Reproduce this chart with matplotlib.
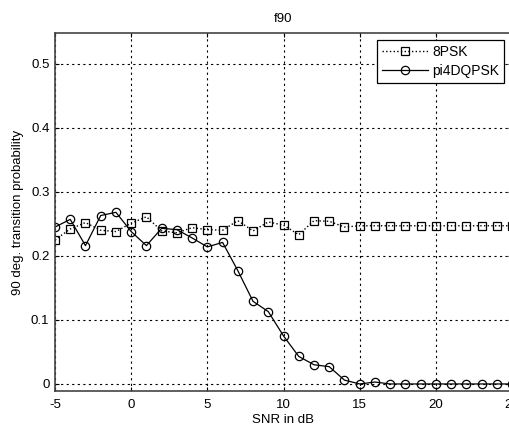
import numpy as np
import matplotlib
matplotlib.use('Agg')
import matplotlib.pyplot as plt

plt.rcParams['font.family'] = ['Liberation Sans', 'DejaVu Sans']
plt.rcParams['axes.unicode_minus'] = False

snr = np.arange(-5, 26)
p_8psk = [0.225, 0.242, 0.252, 0.240, 0.238, 0.251, 0.261, 0.239, 0.236, 0.244,
          0.241, 0.240, 0.255, 0.239, 0.253, 0.248, 0.233, 0.255, 0.254, 0.245,
          0.247, 0.247, 0.247, 0.247, 0.247, 0.247, 0.247, 0.247, 0.247, 0.247, 0.247]
p_pi4 = [0.245, 0.257, 0.216, 0.263, 0.268, 0.238, 0.216, 0.243, 0.241, 0.228,
         0.214, 0.221, 0.177, 0.129, 0.113, 0.075, 0.043, 0.030, 0.027, 0.006,
         0.0, 0.003, 0.0, 0.0, 0.0, 0.0, 0.0, 0.0, 0.0, 0.0, 0.0]
xticks = [-5, 0, 5, 10, 15, 20, 25]
yticks = [0, 0.1, 0.2, 0.3, 0.4, 0.5]
ytick_labels = ['0', '0.1', '0.2', '0.3', '0.4', '0.5']

fig = plt.figure(figsize=(5.09, 4.29), dpi=100)
ax = fig.add_axes([55/509, 38/429, 457/509, 358/429])

ax.plot(snr, p_8psk, color='k', ls=':', lw=1, marker='s', ms=5.2, mfc='none', mec='k', mew=0.9, label='8PSK')
ax.plot(snr, p_pi4, color='k', ls='-', lw=0.9, marker='o', ms=6, mfc='none', mec='k', mew=0.9, label='pi4DQPSK')

ax.set_xlim(-5, 25)
ax.set_ylim(-0.011, 0.548)
ax.set_xticks(xticks)
ax.set_yticks(yticks)
ax.set_yticklabels(ytick_labels)
ax.grid(True, color='k', ls=(0, (2, 3)), lw=0.8)
ax.tick_params(direction='in', top=True, right=True, labelsize=9.5, length=3)
ax.tick_params(axis='y', pad=4)
ax.tick_params(axis='x', pad=6)
for s in ax.spines.values():
    s.set_color('#444444')
    s.set_linewidth(1.2)

ax.set_title('f90', fontsize=9.5, pad=8)
ax.set_xlabel('SNR in dB', fontsize=9.5, labelpad=2)
ax.set_ylabel('90 deg. transition probability', fontsize=9.5, labelpad=5)

# legend runs off the right edge like in the source image
leg = ax.legend(loc='upper left', bbox_to_anchor=(0.69, 0.999), fancybox=False,
                edgecolor='k', framealpha=1, fontsize=10, handlelength=3.3,
                borderpad=0.35, labelspacing=0.35, handletextpad=0.3)
leg.get_frame().set_linewidth(0.9)

fig.savefig('out.png', dpi=100)
